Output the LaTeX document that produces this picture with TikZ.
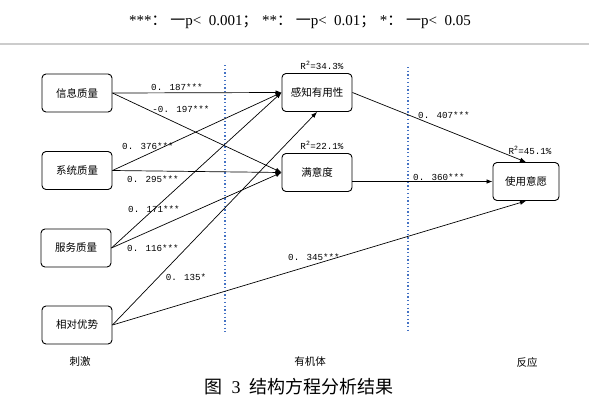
\documentclass[tikz,border=0pt]{standalone}
\usepackage{fontspec}
\setmainfont{Liberation Serif}
\newfontfamily\cjk{Noto Sans CJK SC}
\newfontfamily\coefmono{Liberation Mono}
\definecolor{DotBlue}{RGB}{68, 114, 196}
\definecolor{RuleGray}{RGB}{204, 204, 204}
\usetikzlibrary{arrows.meta, positioning}

\begin{document}
\begin{tikzpicture}[x=1pt, y=-1pt,
  every node/.style={font=\cjk\fontsize{10.5}{12}\selectfont, align=center},
  box/.style={draw, rounded corners=4pt, line width=0.9pt, minimum width=70pt, minimum height=38pt, inner sep=0pt},
  coef/.style={font=\coefmono\fontsize{9.2}{10}\selectfont, inner sep=0pt},
  link/.style={-{Latex[length=6pt, width=4.5pt]}, line width=0.7pt},
  divider/.style={DotBlue, line width=1.3pt, dash pattern=on 1.3pt off 2.4pt},
  stage/.style={font=\cjk\fontsize{10.5}{12}\selectfont}]
\useasboundingbox (0,0) rectangle (589,405);

% legend and rule
\node[font=\rmfamily\fontsize{15}{18}\selectfont] (legend) at (300,22)
  {***{\cjk ：} {\cjk 一}p<\hspace{0.5em}0.001{\cjk ；}\hspace{0.3em}**{\cjk ：} {\cjk 一}p<\hspace{0.5em}0.01{\cjk ；}\hspace{0.3em}*{\cjk ：} {\cjk 一}p<\hspace{0.5em}0.05};
\draw[RuleGray, line width=2pt] (0,43.5) -- (589,43.5);

% stage dividers
\draw[divider] (225,65) -- (225,332);
\draw[divider] (408,67) -- (408,332);

% constructs
\node[box] (iq)  at (77,93)    {信息质量};
\node[box] (sq)  at (77,170.5) {系统质量};
\node[box] (svq) at (76,248)   {服务质量};
\node[box] (ra)  at (77,325)   {相对优势};
\node[box] (pu)  at (317,92.5) {感知有用性};
\node[box] (sat) at (317,172.5) {满意度};
\node[box, minimum width=66pt] (bi) at (526,181.5) {使用意愿};

% paths
\draw[link] (iq.east) -- (pu.west);
\draw[link] (iq.east) -- (sat.west);
\draw[link] (sq.east) -- (pu.west);
\draw[link] (sq.east) -- (sat.west);
\draw[link] (svq.east) -- (pu.west);
\draw[link] (svq.east) -- (sat.west);
\draw[link] (ra.east) -- (pu.south);
\draw[link] (ra.east) -- (bi.south);
\draw[link] (pu.east) -- (bi.north);
\draw[link] (sat.east |- bi.west) -- (bi.west);

% coefficients
\node[coef] (c1) at (177,87)  {0. 187***};
\node[coef] (c2) at (181,109) {-0. 197***};
\node[coef] (c3) at (148,146) {0. 376***};
\node[coef] (c4) at (153,179) {0. 295***};
\node[coef] (c5) at (154,209) {0. 171***};
\node[coef] (c6) at (153,248) {0. 116***};
\node[coef] (c7) at (186,277) {0. 135*};
\node[coef] (c8) at (314,257) {0. 345***};
\node[coef] (c9) at (444,115) {0. 407***};
\node[coef] (c10) at (439,177) {0. 360***};
\node[coef] (r1) at (322,65)  {R\textsuperscript{2}=34.3\%};
\node[coef] (r2) at (322,145) {R\textsuperscript{2}=22.1\%};
\node[coef] (r3) at (530,150) {R\textsuperscript{2}=45.1\%};

% stages and caption
\node[stage] (s1) at (80,362)  {刺激};
\node[stage] (s2) at (310,362) {有机体};
\node[stage] (s3) at (527,362) {反应};
\node[font=\cjk\fontsize{18}{21}\selectfont] (cap) at (299,387)
  {图\hspace{0.5em}{\rmfamily 3}\hspace{0.5em}结构方程分析结果};
\end{tikzpicture}
\end{document}
